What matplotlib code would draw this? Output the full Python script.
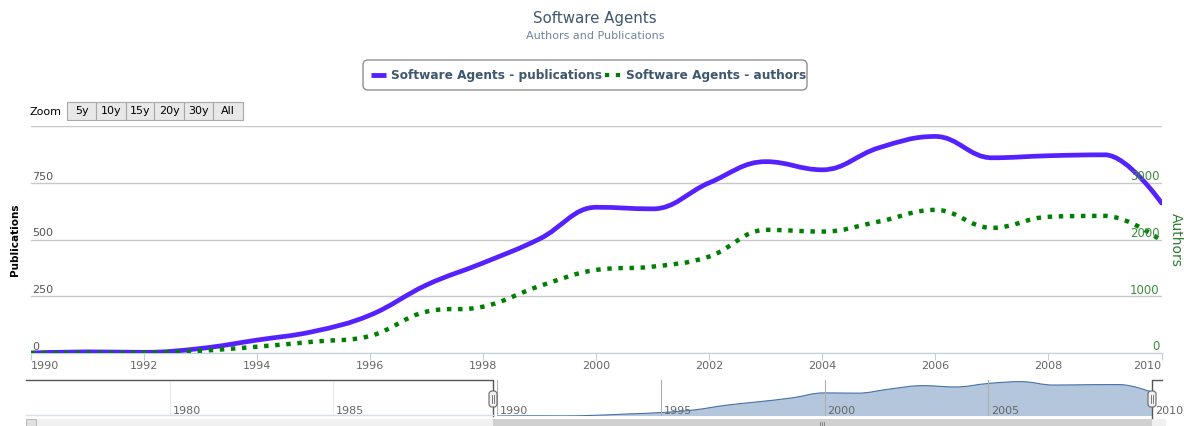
import numpy as np
import matplotlib
matplotlib.use("Agg")
import matplotlib.pyplot as plt
from matplotlib.path import Path
from matplotlib.patches import PathPatch, Rectangle, FancyBboxPatch
from matplotlib.lines import Line2D

# ---- data ----
years = [1990, 1991, 1992, 1993, 1994, 1995, 1996, 1997, 1998, 1999, 2000,
         2001, 2002, 2003, 2004, 2005, 2006, 2007, 2008, 2009, 2010]
publications = [0, 5, 3, 20, 57, 95, 167, 300, 397, 503, 642,
                635, 750, 843, 807, 904, 954, 860, 869, 873, 661]
authors = [0, 0, 5, 40, 111, 200, 300, 730, 817, 1180, 1464,
           1522, 1700, 2170, 2140, 2316, 2522, 2205, 2400, 2416, 1981]

pub_ticks = [0, 250, 500, 750]
auth_ticks = [0, 1000, 2000, 3000]
year_ticks = list(range(1990, 2011, 2))
nav_ticks = [1980, 1985, 1990, 1995, 2000, 2005, 2010]
zoom_buttons = ["5y", "10y", "15y", "20y", "30y", "All"]

TITLE_C = "#3E576F"
SUB_C = "#6D869F"
PUB_C = "#5522FF"
AUTH_C = "#008000"
LBL_C = "#666666"
GRID_C = "#C8C8C8"

W, H = 1184, 426


def spline_path(xs, ys, base=None):
    """Highcharts-like spline (smoothing 1.5) as a bezier Path."""
    sm = 1.5
    n = len(xs)
    verts = [(xs[0], ys[0])]
    codes = [Path.MOVETO]
    right = (xs[0], ys[0])
    for i in range(1, n):
        x, y = xs[i], ys[i]
        if i < n - 1:
            px, py = xs[i - 1], ys[i - 1]
            nx, ny = xs[i + 1], ys[i + 1]
            lx = (sm * x + px) / (sm + 1)
            ly = (sm * y + py) / (sm + 1)
            rx = (sm * x + nx) / (sm + 1)
            ry = (sm * y + ny) / (sm + 1)
            corr = (ry - ly) * (rx - x) / (rx - lx) + y - ry
            ly += corr
            ry += corr
            # no overshoot
            if ly > py and ly > y:
                ly = max(py, y)
                ry = 2 * y - ly
            elif ly < py and ly < y:
                ly = min(py, y)
                ry = 2 * y - ly
            if ry > ny and ry > y:
                ry = max(ny, y)
                ly = 2 * y - ry
            elif ry < ny and ry < y:
                ry = min(ny, y)
                ly = 2 * y - ry
            left, nright = (lx, ly), (rx, ry)
        else:
            left, nright = (x, y), (x, y)
        verts += [right, left, (x, y)]
        codes += [Path.CURVE4] * 3
        right = nright
    if base is not None:
        verts += [(xs[-1], base), (xs[0], base), (xs[0], ys[0])]
        codes += [Path.LINETO, Path.LINETO, Path.CLOSEPOLY]
    return Path(verts, codes)


fig = plt.figure(figsize=(W / 100, H / 100), dpi=100)


def fr(x0, y0, x1, y1):
    return [x0 / W, 1 - y1 / H, (x1 - x0) / W, (y1 - y0) / H]


# ---- main chart ----
PL, PR, PT, PB = 31, 1161.5, 126, 353
ax = fig.add_axes(fr(PL, PT, PR, PB))
ax.set_xlim(1990, 2010)
ax.set_ylim(0, 1000)
for s in ["top", "left", "right"]:
    ax.spines[s].set_visible(False)
ax.spines["bottom"].set_color("#C0D0E0")
ax.set_yticks([0, 250, 500, 750, 1000])
ax.yaxis.grid(True, color=GRID_C, lw=1)
ax.tick_params(axis="y", length=0, labelleft=False)
ax.set_xticks(year_ticks)
ax.set_xticklabels([str(y) for y in year_ticks], fontsize=8, color=LBL_C)
ax.tick_params(axis="x", length=5, color="#C0D0E0", pad=1)
xl = ax.get_xticklabels()
xl[0].set_ha("left")
xl[-1].set_ha("right")
ax.set_axisbelow(True)

ax2 = ax.twinx()
ax2.set_ylim(0, 4000)
ax2.set_yticks([])
for s in ax2.spines.values():
    s.set_visible(False)

pub_patch = PathPatch(spline_path(years, publications), fill=False,
                      edgecolor=PUB_C, lw=3.4, capstyle="round", joinstyle="round", zorder=3)
ax.add_patch(pub_patch)
auth_patch = PathPatch(spline_path(years, authors), fill=False,
                       edgecolor=AUTH_C, lw=3.2, linestyle=(0, (1.0, 1.5)), zorder=4)
auth_patch.set_capstyle("butt")
ax2.add_patch(auth_patch)

for v in pub_ticks:
    ax.annotate(str(v), xy=(0, v), xycoords=("axes fraction", "data"),
                xytext=(1, 6), textcoords="offset pixels", ha="left", va="center",
                fontsize=8, color="#555555")
for v in auth_ticks:
    ax2.annotate(str(v), xy=(1, v), xycoords=("axes fraction", "data"),
                 xytext=(-2, 6), textcoords="offset pixels", ha="right", va="center",
                 fontsize=8.5, color="#3C8C3C", zorder=5)

fig.text(15 / W, 1 - 240 / H, "Publications", rotation=90, ha="center", va="center",
         fontsize=7.5, fontweight="bold", color="black")
fig.text(1176 / W, 1 - 240 / H, "Authors", rotation=270, ha="center", va="center",
         fontsize=10, color="#2E7D32")

# ---- navigator ----
NT, NB = 380, 416
axn = fig.add_axes(fr(PL, NT, PR, NB))
nav_x0 = 1990 - (497 - PL) / 32.75
nav_x1 = 2010 + (PR - 1152) / 32.75
axn.set_xlim(nav_x0, nav_x1)
axn.set_ylim(0, 1000)
axn.axis("off")
axn.add_patch(PathPatch(spline_path(years, publications, base=0),
                        facecolor="#4572A7", alpha=0.4, edgecolor="none", zorder=2))
axn.add_patch(PathPatch(spline_path(years, publications), fill=False,
                        edgecolor="#4572A7", lw=0.8, zorder=3))
for t in nav_ticks[:-1]:
    axn.axvline(t, color="#B0B0B0", lw=0.8, zorder=4)
for t in nav_ticks:
    axn.annotate(str(t), xy=(t, 0), xycoords=("data", "axes fraction"),
                 xytext=(3, 5), textcoords="offset pixels", ha="left", va="center",
                 fontsize=8, color=LBL_C, zorder=6)
axn.axvspan(nav_x0, 1990, color="white", alpha=0.75, zorder=5, lw=0)

# ---- overlay for the html-ish furniture ----
ov = fig.add_axes([0, 0, 1, 1], facecolor="none")
ov.set_xlim(0, W)
ov.set_ylim(H, 0)
ov.axis("off")

fig.text(595 / W, 1 - 19 / H, "Software Agents", ha="center", va="center",
         fontsize=10.8, color=TITLE_C)
fig.text(595 / W, 1 - 36 / H, "Authors and Publications", ha="center", va="center",
         fontsize=8, color=SUB_C)

# legend
ov.add_patch(FancyBboxPatch((363, 60), 444, 30, boxstyle="round,pad=0,rounding_size=5",
                            facecolor="white", edgecolor="#909090", lw=1))
ov.add_line(Line2D([371, 386], [75, 75], color=PUB_C, lw=3.5, solid_capstyle="butt"))
ov.text(391, 75, "Software Agents - publications", ha="left", va="center",
        fontsize=8.7, fontweight="bold", color=TITLE_C)
ov.add_line(Line2D([605, 620], [75, 75], color=AUTH_C, lw=3, linestyle=(0, (1.0, 1.6)),
                   dash_capstyle="butt"))
ov.text(626, 75, "Software Agents - authors", ha="left", va="center",
        fontsize=8.7, fontweight="bold", color=TITLE_C)

# range selector buttons
ov.text(30, 112, "Zoom", ha="left", va="center", fontsize=8, color="black")
edges = [67, 96, 125.7, 154.3, 184, 213.3, 242.7]
for i, lab in enumerate(zoom_buttons):
    ov.add_patch(Rectangle((edges[i], 102), edges[i + 1] - edges[i], 18,
                           facecolor="#E8E8E8", edgecolor="#A8A8A8", lw=0.8))
    ov.text((edges[i] + edges[i + 1]) / 2, 111.5, lab, ha="center", va="center",
            fontsize=8, color="black")

# navigator outline + handles
h1, h2 = 493, 1152
ov.add_line(Line2D([26, h1, h1], [380, 380, NB], color="#555555", lw=1))
ov.add_line(Line2D([h2, h2, PR], [NB + 2, 380, 380], color="#555555", lw=1))
ov.add_line(Line2D([26, h1], [415, 415], color="#D8DEEA", lw=1))
for hx in (h1, h2):
    ov.add_patch(FancyBboxPatch((hx - 4, 391), 8, 16, boxstyle="round,pad=0,rounding_size=3",
                                facecolor="#F2F2F2", edgecolor="#666666", lw=0.8, zorder=10))
    for dx in (-1.2, 1.2):
        ov.add_line(Line2D([hx + dx, hx + dx], [395, 403], color="#666666", lw=0.6, zorder=11))

# scrollbar
ov.add_patch(Rectangle((26, 419), PR - 26 + 4, 10, facecolor="#F0F0F0", edgecolor="none"))
ov.add_patch(Rectangle((h1, 419), h2 - h1, 10, facecolor="#D0D0D0", edgecolor="none"))
ov.add_patch(Rectangle((26, 419), 10, 10, facecolor="#E0E0E0", edgecolor="#B0B0B0", lw=0.6))
for dx in (-2, 0, 2):
    ov.add_line(Line2D([822 + dx, 822 + dx], [422, 426], color="#777777", lw=0.6))

fig.savefig("out.png", dpi=100)
